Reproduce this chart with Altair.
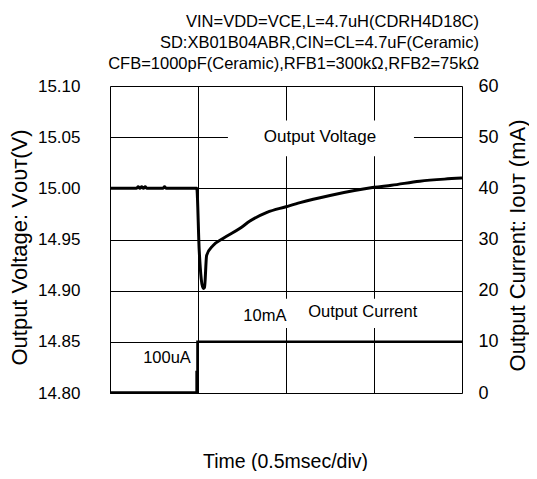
import altair as alt
import pandas as pd

# ---- data ----
time_v = [0.0, 0.15, 0.16, 0.17, 0.18, 0.19, 0.20, 0.21, 0.30, 0.31, 0.32, 0.493,
          0.507, 0.530, 0.537, 0.549, 0.585, 0.642, 0.739, 0.795, 0.892, 1.0,
          1.08, 1.25, 1.5, 1.6, 1.76, 1.9, 2.0]
volt = [15.000, 15.000, 15.0015, 15.000, 15.0015, 15.000, 15.0015, 15.000, 15.000, 15.0015, 15.000, 15.000,
        14.939, 14.902, 14.903, 14.9345, 14.944, 14.951, 14.961, 14.968, 14.9765, 14.982,
        14.986, 14.993, 15.001, 15.003, 15.007, 15.009, 15.010]

time_i = [0.0, 0.492, 0.492, 0.494, 0.494, 0.497, 0.497, 2.0]
curr = [0.1, 0.1, 4.1, 4.1, 0.1, 0.1, 10.0, 10.0]

volt_ticks = [14.80, 14.85, 14.90, 14.95, 15.00, 15.05, 15.10]
curr_ticks = [0, 10, 20, 30, 40, 50, 60]
time_ticks = [0, 0.5, 1.0, 1.5, 2.0]

header_lines = ["VIN=VDD=VCE,L=4.7uH(CDRH4D18C)",
                "SD:XB01B04ABR,CIN=CL=4.7uF(Ceramic)",
                "CFB=1000pF(Ceramic),RFB1=300kΩ,RFB2=75kΩ"]

# annotation labels (data coordinates)
v_label = {"t": [1.193], "v": [15.0503], "label": ["Output Voltage"]}
v_box = {"t": [0.670], "t2": [1.727], "v": [15.0664], "v2": [15.0313]}
i_labels = {"t": [0.88, 1.436, 0.324], "i": [15.0, 15.9, 6.9],
            "label": ["10mA", "Output Current", "100uA"]}
i_box = {"t": [0.716], "t2": [1.784], "i": [18.4], "i2": [12.7]}

FONT = "Liberation Sans"

vdf = pd.DataFrame({"t": time_v, "v": volt, "o": list(range(len(time_v)))})
idf = pd.DataFrame({"t": time_i, "i": curr, "o": list(range(len(time_i)))})

x_scale = alt.Scale(domain=[0, 2], nice=False, zero=False)
yv_scale = alt.Scale(domain=[14.80, 15.10], nice=False, zero=False)
yi_scale = alt.Scale(domain=[0, 60], nice=False, zero=False)

x_axis = alt.Axis(values=time_ticks, labels=False, ticks=False, domain=False,
                  grid=True, gridColor="black", gridWidth=1, gridOpacity=1,
                  title="Time (0.5msec/div)", titleFontSize=19.5, titleFont=FONT,
                  titleFontWeight="normal", titleColor="black",
                  titleX=175, titleY=74, titleBaseline="alphabetic", titleAlign="center")

yv_axis = alt.Axis(values=volt_ticks, format=".2f", labelFontSize=17, labelFont=FONT,
                   labelColor="black", labelPadding=30, ticks=False, domain=False,
                   grid=True, gridColor="black", gridWidth=1, gridOpacity=1,
                   title="Output Voltage: Vᴏᴜᴛ(V)", titleFontSize=22, titleFont=FONT,
                   titleFontWeight="normal", titleColor="black",
                   titleAngle=270, titleX=-84, titleY=161,
                   titleBaseline="alphabetic", titleAlign="center")

yi_axis = alt.Axis(values=curr_ticks, orient="right", format="d", labelFontSize=18,
                   labelFont=FONT, labelColor="black", labelPadding=16, ticks=False,
                   domain=False, grid=False,
                   title="Output Current: Iᴏᴜᴛ (mA)", titleFontSize=22, titleFont=FONT,
                   titleFontWeight="normal", titleColor="black",
                   titleAngle=270, titleX=62, titleY=159,
                   titleBaseline="alphabetic", titleAlign="center")

X = lambda f="t": alt.X(f + ":Q", scale=x_scale, axis=x_axis)

v_line = alt.Chart(vdf).mark_line(color="black", strokeWidth=3, interpolate="monotone").encode(
    x=X(), y=alt.Y("v:Q", scale=yv_scale, axis=yv_axis), order="o:Q")

v_box_layer = alt.Chart(pd.DataFrame(v_box)).mark_rect(color="white").encode(
    x=X(), x2="t2:Q", y=alt.Y("v:Q", scale=yv_scale, axis=yv_axis), y2="v2:Q")

v_text = alt.Chart(pd.DataFrame(v_label)).mark_text(
    font=FONT, fontSize=17, color="black", baseline="middle", align="center").encode(
    x=X(), y=alt.Y("v:Q", scale=yv_scale, axis=yv_axis), text="label:N")

i_line = alt.Chart(idf).mark_line(color="black", strokeWidth=2.5).encode(
    x=X(), y=alt.Y("i:Q", scale=yi_scale, axis=yi_axis), order="o:Q")

i_box_layer = alt.Chart(pd.DataFrame(i_box)).mark_rect(color="white").encode(
    x=X(), x2="t2:Q", y=alt.Y("i:Q", scale=yi_scale, axis=yi_axis), y2="i2:Q")

i_text = alt.Chart(pd.DataFrame(i_labels)).mark_text(
    font=FONT, fontSize=16.5, color="black", baseline="middle", align="center").encode(
    x=X(), y=alt.Y("i:Q", scale=yi_scale, axis=yi_axis), text="label:N")

volt_layer = alt.layer(v_box_layer, v_text, v_line)
curr_layer = alt.layer(i_box_layer, i_text, i_line)

chart = alt.layer(volt_layer, curr_layer).resolve_scale(y="independent").properties(
    width=352, height=307, autosize="none",
    padding={"left": 102, "top": 78, "right": 67, "bottom": 78},
    title=alt.TitleParams(text=header_lines, anchor="end", frame="group", fontSize=16.5,
                          font=FONT, fontWeight="normal", color="black", dx=17, offset=5,
                          lineHeight=21),
).configure_view(stroke="black", strokeWidth=1.5).configure(background="white")

chart.save("out.html", embed_options={"renderer": "svg", "actions": False})
